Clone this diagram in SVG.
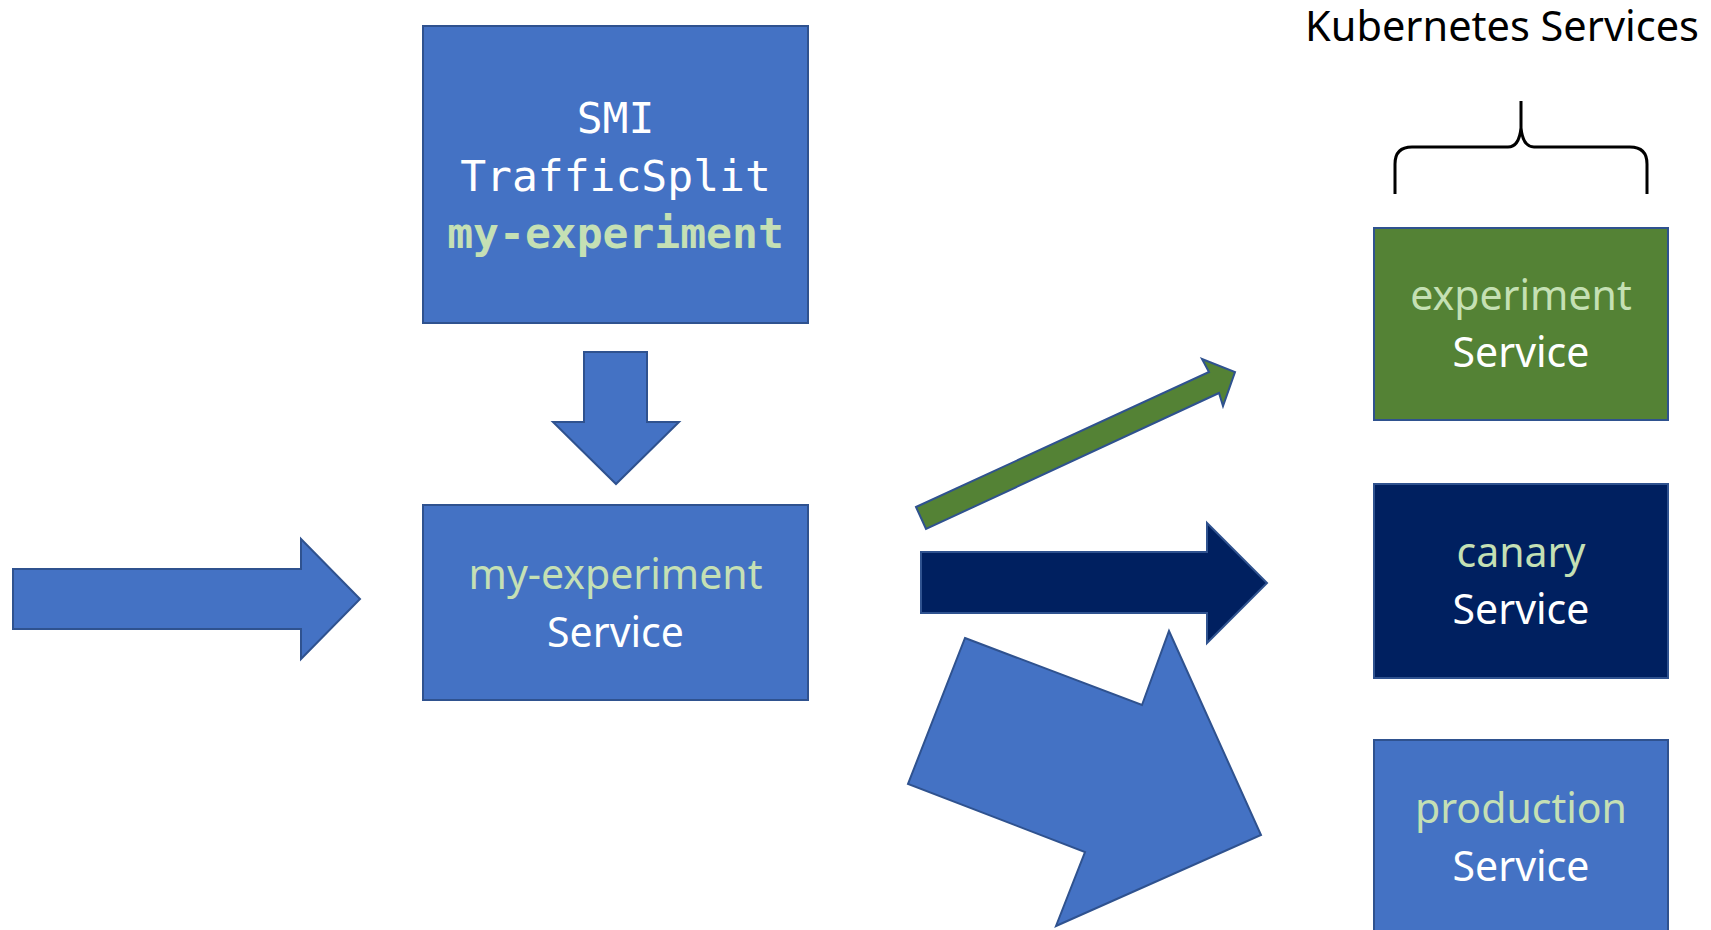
<svg xmlns="http://www.w3.org/2000/svg" width="1711" height="930" viewBox="0 0 1711 930">
<style>
.box{stroke:#2F528F;stroke-width:2}
.blue{fill:#4472C4}
.green{fill:#548235}
.navy{fill:#002060}
.arrow{stroke:#2F528F;stroke-width:2;stroke-linejoin:miter}
.lbl{font-family:"Noto Sans","Open Sans",sans-serif;font-size:41px;text-anchor:middle}
.mono{font-family:"DejaVu Sans Mono","Liberation Mono",monospace;font-size:43px;text-anchor:middle}
.w{fill:#FFFFFF}
.g{fill:#C5E0B4}
</style>
<rect width="1711" height="930" fill="#FFFFFF"/>
<g id="trafficsplit">
<rect class="box blue" x="423" y="26" width="385" height="297"/>
<text class="mono w" x="615.5" y="133">SMI</text>
<text class="mono w" x="615.5" y="191">TrafficSplit</text>
<text class="mono g" x="615.5" y="248" font-weight="bold">my-experiment</text>
</g>
<g id="my-experiment-service">
<rect class="box blue" x="423" y="505" width="385" height="195"/>
<text class="lbl g" x="615.5" y="589">my-experiment</text>
<text class="lbl w" x="615.5" y="647">Service</text>
</g>
<g id="k8s-label">
<text x="1502" y="41" style="font-family:'Noto Sans','Open Sans',sans-serif;font-size:41.5px;text-anchor:middle;fill:#000000">Kubernetes Services</text>
<path d="M1395,194 V164 Q1395,147 1412,147 H1508 Q1519,147 1521,128 V101 M1521,128 Q1523,147 1534,147 H1630 Q1647,147 1647,164 V194" fill="none" stroke="#000000" stroke-width="3"/>
</g>
<g id="experiment-service">
<rect class="box green" x="1374" y="228" width="294" height="192"/>
<text class="lbl g" x="1521" y="310">experiment</text>
<text class="lbl w" x="1521" y="367">Service</text>
</g>
<g id="canary-service">
<rect class="box navy" x="1374" y="484" width="294" height="194"/>
<text class="lbl g" x="1521" y="567">canary</text>
<text class="lbl w" x="1521" y="624">Service</text>
</g>
<g id="production-service">
<rect class="box blue" x="1374" y="740" width="294" height="194"/>
<text class="lbl g" x="1521" y="823">production</text>
<text class="lbl w" x="1521" y="881">Service</text>
</g>
<g id="connectors">
<polygon class="arrow blue" points="13,569 301,569 301,539 360,599 301,659 301,629 13,629"/>
<polygon class="arrow blue" points="584,352 647,352 647,422 679,422 616,484 553,422 584,422"/>
<polygon class="arrow green" points="916,507 1209,372 1202,359 1235,372 1223,406 1219,393 926,529"/>
<polygon class="arrow navy" points="921,552 1207,552 1207,523 1267,583 1207,643 1207,613 921,613"/>
<polygon class="arrow blue" points="965,638 1142,705 1169,631 1261,835 1056,926 1085,852 908,784"/>
</g>
</svg>
